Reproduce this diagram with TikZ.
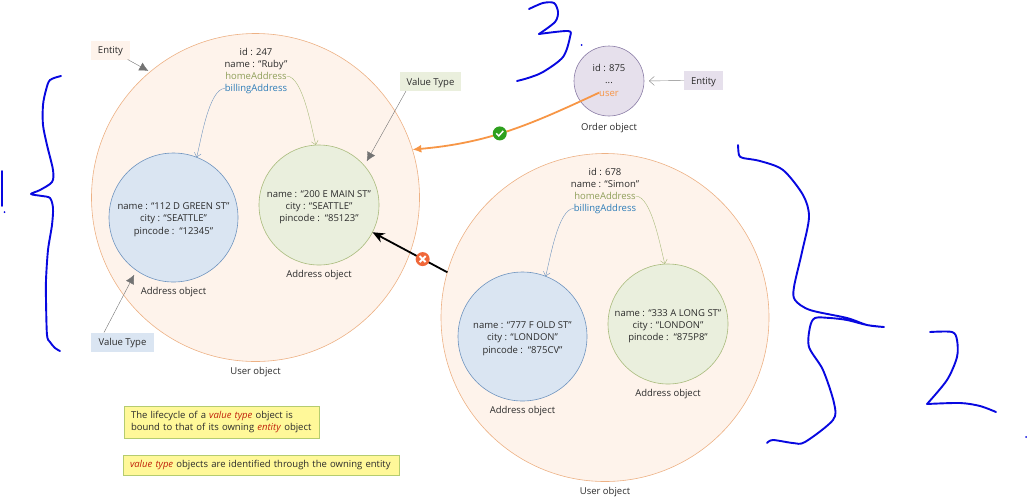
\documentclass[tikz,border=0pt]{standalone}
\usepackage{fontspec}
\setmainfont{Open Sans}
\usetikzlibrary{arrows.meta,positioning}
\definecolor{inktxt}{HTML}{2B2B2B}
\definecolor{usrfill}{HTML}{FEF3EB}
\definecolor{usrline}{HTML}{EDB184}
\definecolor{bluefill}{HTML}{DAE5F2}
\definecolor{blueline}{HTML}{6F94BF}
\definecolor{grnfill}{HTML}{EAEFDD}
\definecolor{grnline}{HTML}{A9BB7C}
\definecolor{ordfill}{HTML}{E6E0EC}
\definecolor{ordline}{HTML}{8A7CA6}
\definecolor{homecol}{HTML}{8F9F5A}
\definecolor{billcol}{HTML}{2E7DB8}
\definecolor{usercol}{HTML}{F79646}
\definecolor{notefill}{HTML}{FFF899}
\definecolor{noteline}{HTML}{B5CC6F}
\definecolor{redtxt}{HTML}{C0200A}
\definecolor{okcol}{HTML}{2EA01E}
\definecolor{nocol}{HTML}{F0683A}
\definecolor{pen}{HTML}{0808E0}
\newcommand{\vt}[1]{\textcolor{redtxt}{\textit{#1}}}
\newcommand{\topln}{\rule{0pt}{11pt}}

\begin{document}
\begin{tikzpicture}[->, x=1pt, y=-1pt, node distance=12.3pt, semithick,
    every node/.style={text=inktxt, font=\fontsize{9.5}{12.3}\selectfont, align=center, inner sep=0pt, outer sep=0pt},
    usr/.style={circle, draw=usrline, fill=usrfill, minimum size=328pt},
    adrb/.style={circle, draw=blueline, fill=bluefill, minimum size=129pt},
    adrg/.style={circle, draw=grnline, fill=grnfill, minimum size=120pt},
    ord/.style={circle, draw=ordline, fill=ordfill, minimum size=70pt},
    attr/.style={text height=8pt, text depth=1pt},
    capt/.style={text height=8pt, text depth=1pt},
    tagbox/.style={text height=8pt, text depth=1pt, minimum height=19pt, minimum width=#1},
    note/.style={draw=noteline, fill=notefill, align=left, inner sep=0pt, text width=#1, minimum height=20pt},
    tagline/.style={-{Latex[length=9pt,width=9pt]}, thin, draw=black!55, shorten >=5pt},
    link/.style={-{Straight Barb[length=4pt,width=7pt]}, thin, looseness=0.55},
    okmark/.style={circle, fill=okcol, minimum size=14pt, path picture={
      \draw [-, white, line width=1.5pt] ([shift={(-3.5,0)}]path picture bounding box.center)
        -- ([shift={(-1,2.5)}]path picture bounding box.center) -- ([shift={(3.5,-2.5)}]path picture bounding box.center);}},
    nomark/.style={circle, fill=nocol, minimum size=14pt, path picture={
      \draw [-, white, line width=2pt] ([shift={(-3,-3)}]path picture bounding box.center) -- ([shift={(3,3)}]path picture bounding box.center);
      \draw [-, white, line width=2pt] ([shift={(-3,3)}]path picture bounding box.center) -- ([shift={(3,-3)}]path picture bounding box.center);}},
    ink/.style={-, draw=pen, line width=1.9pt, line cap=round, line join=round}]
    \useasboundingbox (0,0) rectangle (1027,499);

    % first user
    \node [usr] (usr1) at (255.5,197.5) {};
    \node [attr] (id1) at (256,51.5) {id : 247};
    \node [attr] (nm1) [below of=id1] {name : “Ruby”};
    \node [attr, text=homecol] (hm1) [below of=nm1] {homeAddress};
    \node [attr, text=billcol] (bl1) [below of=hm1] {billingAddress};
    \node [adrb] (adr1) at (173.5,217.5) {\topln name : “112 D GREEN ST”\\city : “SEATTLE”\\pincode :\ \ “12345”};
    \node [adrg] (adr2) at (319,205) {\topln name : “200 E MAIN ST”\\city : “SEATTLE”\\pincode :\ \ “85123”};
    \node [capt] (cap1) [below=4pt of adr1] {Address object};
    \node [capt] (cap2) [below=4pt of adr2] {Address object};
    \node [capt] (cap3) [below=5pt of usr1] {User object};

    % second user
    \node [usr] (usr2) at (605,317.5) {};
    \node [attr] (id2) at (605,171.5) {id : 678};
    \node [attr] (nm2) [below of=id2] {name : “Simon”};
    \node [attr, text=homecol] (hm2) [below of=nm2] {homeAddress};
    \node [attr, text=billcol] (bl2) [below of=hm2] {billingAddress};
    \node [adrb] (adr3) at (522.5,336.5) {\topln name : “777 F OLD ST”\\city : “LONDON”\\pincode :\ \ “875CV”};
    \node [adrg] (adr4) at (668,324) {\topln name : “333 A LONG ST”\\city : “LONDON”\\pincode :\ \ “875P8”};
    \node [capt] (cap4) [below=4pt of adr3] {Address object};
    \node [capt] (cap5) [below=4pt of adr4] {Address object};
    \node [capt] (cap6) [below=5pt of usr2] {User object};

    % order
    \node [ord] (ord1) at (609,81) {};
    \node [attr] (id3) at (609,68) {id : 875};
    \node [attr] (dot3) [below of=id3] {...};
    \node [attr, text=usercol] (usr3) [below of=dot3] {user};
    \node [capt] (cap7) [below=6pt of ord1] {Order object};

    % tags
    \node [tagbox=39pt, fill=usrfill] (ent1) at (110.5,50) {Entity};
    \node [tagbox=39pt, fill=ordfill] (ent2) at (703.5,80.5) {Entity};
    \node [tagbox=61pt, fill=grnfill] (val1) at (430.5,81.5) {Value Type};
    \node [tagbox=63pt, fill=bluefill] (val2) at (122.5,342) {Value Type};

    % notes
    \node [note=195pt, minimum height=32pt] (nt1) at (221.5,422) {\hspace*{7pt}The lifecycle of a \vt{value type} object is\\\hspace*{7pt}bound to that of its owning \vt{entity} object};
    \node [note=276pt] (nt2) at (261,465) {\hspace*{7pt}\vt{value type} objects are identified through the owning entity};

    \path
    (hm1.east) edge [link, grnline, out=0, in=105] (adr2.93)
    (bl1.west) edge [link, blueline, out=180, in=75] (adr1.69)
    (hm2.east) edge [link, grnline, out=0, in=105] (adr4.93)
    (bl2.west) edge [link, blueline, out=180, in=75] (adr3.69)
    (ent1) edge [tagline, shorten >=2pt] (usr1.130)
    ([xshift=6pt]val1.south west) edge [tagline] (adr2.41)
    ([xshift=13pt]val2.north west) edge [tagline] (adr1.235)
    (ent2.west) edge [-{Straight Barb[length=5pt,width=9pt]}, draw=black!50, thin, shorten >=5pt] (ord1.east)
    (usr3.west) edge [usercol, line width=1.8pt, -{Latex[length=9pt,width=8pt]}, out=205, in=5] node [okmark, pos=0.55] (ok1) {} (usr1.17.5)
    (usr2.164) edge [black, line width=1.8pt, -{Stealth[length=12pt,width=10pt]}] node [nomark, pos=0.33] (no1) {} (adr2.-27)
    ;

    % pen marks
    \draw [ink] plot [smooth, tension=0.5] coordinates {(61,76) (50,80) (46,90) (43,105) (43,125) (47,145) (53,170) (52,182) (40,190) (31,194) (42,196) (50,198) (53,208) (52,225) (48,250) (46,280) (46,300) (47,335) (50,342) (55,348) (60,351)};
    \draw [ink] (2,171) -- (2,206);
    \fill [pen] (4.5,212) circle (1pt);
    \draw [ink] plot [smooth, tension=0.5] coordinates {(529,9) (543,3) (554,3) (558,12) (555,22) (539,34)};
    \draw [ink] plot [smooth, tension=0.5] coordinates {(539,34) (568,31) (570,37) (563,57) (543,72) (528,78) (517,81)};
    \fill [pen] (581.5,45) circle (1pt);
    \draw [ink] plot [smooth, tension=0.5] coordinates {(738,145) (739,155) (743,158) (760,161) (783,170) (803,195) (809,217) (802,252) (794,287) (795,300) (810,310) (847,318) (867,325) (884,327) (867,325) (847,320) (830,318) (815,318) (810,327) (809,347) (823,370) (834,403) (833,420) (805,442) (793,443) (773,440) (767,443)};
    \draw [ink] plot [smooth, tension=0.5] coordinates {(930,332) (952,332) (957,340) (957,357) (947,380) (927,404)};
    \draw [ink] plot [smooth, tension=0.5] coordinates {(927,404) (960,403) (980,406) (996,412)};
    \fill [pen] (1026,437) circle (1pt);
  \end{tikzpicture}
\end{document}
